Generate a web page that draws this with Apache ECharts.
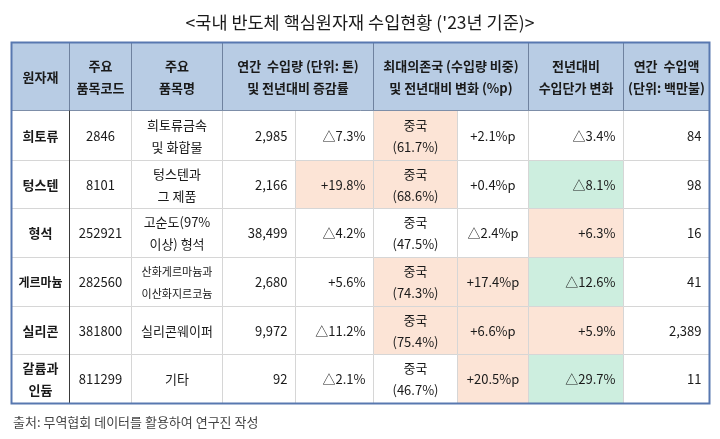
<!DOCTYPE html>
<html><head><meta charset="utf-8">
<script src="https://cdn.jsdelivr.net/npm/echarts@6/dist/echarts.min.js"></script>
<style>html,body{margin:0;padding:0;background:#fff}#c{width:720px;height:439px}</style>
</head><body><div id="c"></div>
<script>
// ---------- data ----------
const titleText = "<국내 반도체 핵심원자재 수입현황 ('23년 기준)>";
const sourceText = '출처: 무역협회 데이터를 활용하여 연구진 작성';
const headers = ['원자재', '주요\n품목코드', '주요\n품목명', '연간  수입량 (단위: 톤)\n및 전년대비 증감률',
  '최대의존국 (수입량 비중)\n및 전년대비 변화 (%p)', '전년대비\n수입단가 변화', '연간  수입액\n(단위: 백만불)'];
const materials = ['희토류', '텅스텐', '형석', '게르마늄', '실리콘', '갈륨과\n인듐'];
const hsCodes = ['2846', '8101', '252921', '282560', '381800', '811299'];
const productNames = ['희토류금속\n및 화합물', '텅스텐과\n그 제품', '고순도(97%\n이상) 형석', '산화게르마늄과\n이산화지르코늄', '실리콘웨이퍼', '기타'];
const importVolume = [2985, 2166, 38499, 2680, 9972, 92];
const volumeChange = [-7.3, 19.8, -4.2, 5.6, -11.2, -2.1];
const topCountry = ['중국', '중국', '중국', '중국', '중국', '중국'];
const topShare = [61.7, 68.6, 47.5, 74.3, 75.4, 46.7];
const shareChange = [2.1, 0.4, -2.4, 17.4, 6.6, 20.5];
const unitPriceChange = [-3.4, -8.1, 6.3, -12.6, 5.9, -29.7];
const importValue = [84, 98, 16, 41, 2389, 11];

// ---------- layout / style (not data) ----------
const colEdges = [0, 58, 120, 211, 284, 362, 446, 517, 612, 698];
const rowEdges = [0, 68, 118, 166, 215, 264, 312, 361];
const headerSpans = [[0, 1], [1, 2], [2, 3], [3, 5], [5, 7], [7, 8], [8, 9]];
const condensedRow = [false, false, false, true, false, false];
const highlight = [
  ['', '', '', '', '', 'o', '', '', ''],
  ['', '', '', '', 'o', 'o', '', 'g', ''],
  ['', '', '', '', '', '', '', 'o', ''],
  ['', '', '', '', '', 'o', 'o', 'g', ''],
  ['', '', '', '', '', 'o', 'o', 'o', ''],
  ['', '', '', '', '', '', 'o', 'g', '']
];
const FILL = { '': '#ffffff', o: '#fce4d6', g: '#cdeedf' };
const FONT = '"Noto Sans CJK KR", "Noto Sans", sans-serif';

const fmtNum = v => v.toLocaleString('en-US');
const fmtChg = (v, unit) => (v < 0 ? '\u25B3' + Math.abs(v).toFixed(1) : '+' + v.toFixed(1)) + unit;

// ---------- build cells ----------
const cells = [];
headers.forEach((h, i) => {
  cells.push({ c0: headerSpans[i][0], c1: headerSpans[i][1], r: 0, text: h, align: 'center', bold: true,
    fill: '#b8cce4', stroke: '#8496b3', size: 13 });
});
materials.forEach((m, r) => {
  const row = r + 1;
  const cond = condensedRow[r];
  const texts = [
    [m, 'center', true, cond ? 12 : 13],
    [hsCodes[r], 'center', false, 13],
    [productNames[r], 'center', false, cond ? 11 : 13],
    [fmtNum(importVolume[r]), 'right', false, 13],
    [fmtChg(volumeChange[r], '%'), 'right', false, 13],
    [topCountry[r] + '\n(' + topShare[r].toFixed(1) + '%)', 'center', false, 13],
    [fmtChg(shareChange[r], '%p'), 'center', false, 13],
    [fmtChg(unitPriceChange[r], '%'), 'right', false, 13],
    [fmtNum(importValue[r]), 'right', false, 13]
  ];
  texts.forEach((t, c) => {
    cells.push({ c0: c, c1: c + 1, r: row, text: t[0], align: t[1], bold: t[2], size: t[3],
      fill: FILL[highlight[r][c]], stroke: '#d6d6d6' });
  });
});

const cellData = cells.map(c => [colEdges[c.c0], rowEdges[c.r], colEdges[c.c1], rowEdges[c.r + 1]]);
const snap = v => Math.round(v) + 0.5;

function renderCell(params, api) {
  const cell = cells[params.dataIndex];
  const p0 = api.coord([api.value(0), api.value(1)]);
  const p1 = api.coord([api.value(2), api.value(3)]);
  const x0 = snap(p0[0]), y0 = snap(p0[1]), x1 = snap(p1[0]), y1 = snap(p1[1]);
  const tx = cell.align === 'right' ? x1 - 8 : (x0 + x1) / 2;
  return {
    type: 'group',
    children: [
      { type: 'rect', shape: { x: x0, y: y0, width: x1 - x0, height: y1 - y0 },
        style: { fill: cell.fill, stroke: cell.stroke, lineWidth: 1 } },
      { type: 'text', x: tx, y: (y0 + y1) / 2 + 0.5,
        style: { text: cell.text, align: cell.align, verticalAlign: 'middle', fill: '#1a1a1a',
          fontSize: cell.size, fontWeight: cell.bold ? 'bold' : 'normal', fontFamily: FONT, lineHeight: 22 } }
    ]
  };
}

function renderFrame(params, api) {
  const pt = (x, y) => { const p = api.coord([x, y]); return [snap(p[0]), snap(p[1])]; };
  const children = [];
  const hdrTop = rowEdges[0], hdrBot = rowEdges[1], bot = rowEdges[rowEdges.length - 1];
  headerSpans.slice(1).forEach(s => {
    const a = pt(colEdges[s[0]], hdrTop), b = pt(colEdges[s[0]], hdrBot);
    children.push({ type: 'line', shape: { x1: a[0], y1: a[1], x2: b[0], y2: b[1] }, style: { stroke: '#6f829f', lineWidth: 1 } });
  });
  const hl = pt(colEdges[0], hdrBot), hr = pt(colEdges[colEdges.length - 1], hdrBot);
  children.push({ type: 'line', shape: { x1: hl[0], y1: hl[1], x2: hr[0], y2: hr[1] }, style: { stroke: '#7d8ea8', lineWidth: 1 } });
  const d0 = pt(colEdges[1], hdrBot), d1 = pt(colEdges[1], bot);
  children.push({ type: 'line', shape: { x1: d0[0], y1: d0[1], x2: d1[0], y2: d1[1] }, style: { stroke: '#3a3a3a', lineWidth: 1 } });
  const tl = pt(colEdges[0], hdrTop), br = pt(colEdges[colEdges.length - 1], bot);
  children.push({ type: 'rect', shape: { x: tl[0], y: tl[1], width: br[0] - tl[0], height: br[1] - tl[1] },
    style: { fill: 'none', stroke: '#5878b0', lineWidth: 2 } });
  return { type: 'group', children };
}

const chart = echarts.init(document.getElementById('c'), null, { renderer: 'canvas' });
chart.setOption({
  animation: false,
  title: [
    { text: titleText, left: 'center', top: 9,
      textStyle: { fontFamily: FONT, fontSize: 17.5, fontWeight: 'normal', color: '#1a1a1a' } },
    { text: sourceText, left: 8, top: 411,
      textStyle: { fontFamily: FONT, fontSize: 13, fontWeight: 'normal', color: '#444' } }
  ],
  grid: { left: 11, right: 11, top: 42, bottom: 36 },
  xAxis: { type: 'value', min: 0, max: colEdges[colEdges.length - 1], show: false },
  yAxis: { type: 'value', min: 0, max: rowEdges[rowEdges.length - 1], inverse: true, show: false },
  series: [
    { type: 'custom', renderItem: renderCell, data: cellData, encode: { x: [0, 2], y: [1, 3] }, clip: false, silent: true },
    { type: 'custom', renderItem: renderFrame, data: [[0, 0]], clip: false, silent: true, z: 5 }
  ]
});
</script>
</body></html>
